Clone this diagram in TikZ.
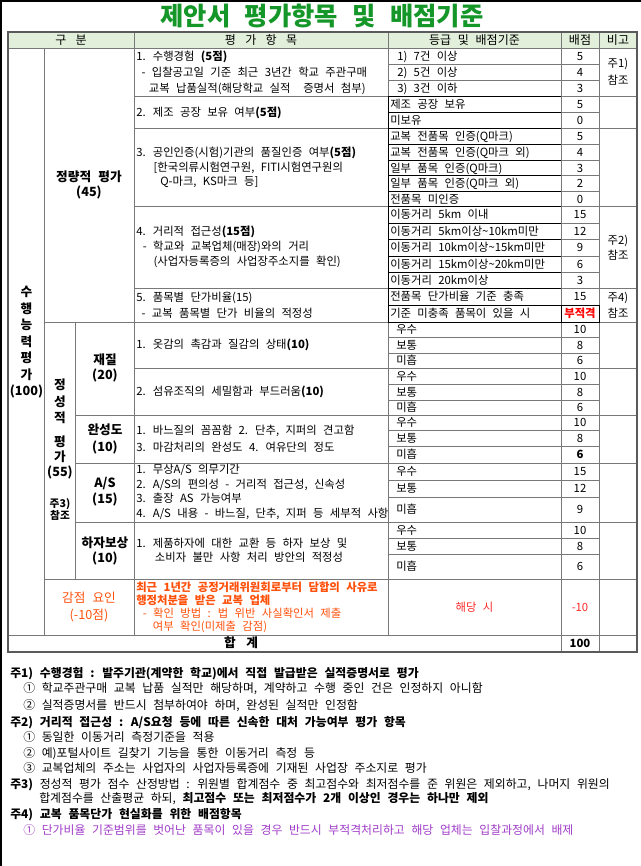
\documentclass[tikz,border=0pt]{standalone}
\usepackage{fontspec}
\setmainfont{Noto Sans CJK KR}[WordSpace=2.5]

\definecolor{titlegreen}{RGB}{20,150,40}
\definecolor{headfill}{RGB}{226,239,218}
\definecolor{linegray}{RGB}{120,120,120}
\definecolor{outergray}{RGB}{90,90,90}
\definecolor{penalty}{RGB}{255,80,10}
\definecolor{minusred}{RGB}{255,40,40}
\definecolor{notepurple}{RGB}{160,60,200}

\tikzset{
  txt/.style={inner sep=0pt, font=\fontsize{8.5}{11}\selectfont},
  one/.style={txt, text height=7pt, text depth=1pt},
  lft/.style={one, anchor=west},
  note/.style={lft, font=\fontsize{8.9}{11}\selectfont},
  para/.style={inner sep=0pt, anchor=west, align=left, font=\fontsize{8.5}{#1}\selectfont},
  cat/.style={inner sep=0pt, align=center, font=\fontsize{9.5}{#1}\selectfont\bfseries},
  gridline/.style={draw=linegray, line width=0.75pt},
  darkline/.style={draw=black, line width=0.75pt},
  outerline/.style={draw=outergray, line width=1.6pt},
}

\begin{document}
\begin{tikzpicture}[x=0.75pt,y=-0.75pt]
  \useasboundingbox (0,0) rectangle (641,866);
  \draw[line width=1.5pt] (0.75,866) -- (0.75,0.75) -- (641,0.75);
  \node[font=\fontsize{19}{21}\selectfont\bfseries, text=titlegreen, inner sep=0pt] (title) at (322,16) {제안서 평가항목 및 배점기준};

  % table rules
  \fill[headfill] (8,32) rectangle (637,49);
  \begin{scope}[gridline]
    \draw (44.5,49) -- (44.5,635);
    \draw (75.5,322) -- (75.5,579);
    \foreach \x in {134,388} \draw (\x,32) -- (\x,635);
    \foreach \x in {561,599} \draw (\x,32) -- (\x,652);
    \draw (8,49) -- (637,49);
    \foreach \y in {97,129,207,288,368} \draw (134,\y) -- (637,\y);
    \foreach \y in {415,463,522} \draw (75.5,\y) -- (637,\y);
    \foreach \y in {322,579} \draw (44.5,\y) -- (637,\y);
    \draw (8,635) -- (637,635);
    \foreach \y in {65,81,337,353,384,400,430,446,480,497,538,554} \draw (388,\y) -- (599,\y);
    \foreach \y in {113,145,161,176,192,223,239,256,272,305} \draw (561,\y) -- (599,\y);
  \end{scope}
  \begin{scope}[darkline]
    \foreach \y in {97,113,129,145,161,176,192,207,223,239,256,272,288,305,322} \draw (388,\y) -- (561,\y);
    \draw (388,97) -- (388,322);
    \draw (561,305) rectangle (599,322);
  \end{scope}
  \draw[outerline] (8,32) rectangle (637,652);

  % header
  \begin{scope}[every node/.style={one, font=\fontsize{9}{11}\selectfont}]
    \node (hgubun) at (71,40.5) {구\hspace{7pt}분};
    \node (hitem) at (261,40.5) {평\hspace{7pt}가\hspace{7pt}항\hspace{7pt}목};
    \node (hgrade) at (474.5,40.5) {등급 및 배점기준};
    \node (hscore) at (580,40.5) {배점};
    \node (hnote) at (618,40.5) {비고};
  \end{scope}

  % categories
  \node[cat=12.4] (perform) at (26.5,342.5) {수\\행\\능\\력\\평\\가\\(100)};
  \node[cat=11.25] (quant) at (89,185) {정량적 평가\\(45)};
  \node[cat=12.4] (qual1) at (60,401.5) {정\\성\\적};
  \node[cat=11.25] (qual2) at (60,457) {평\\가\\(55)};
  \node[inner sep=0pt, align=center, font=\fontsize{8}{9}\selectfont\bfseries] (qualref) at (60,509) {주3)\\참조};
  \node[cat=11.25] (fabric) at (105,367.5) {재질\\(20)};
  \node[cat=12.75] (finish) at (105,438.5) {완성도\\(10)};
  \node[cat=12] (service) at (105,492) {A/S\\(15)};
  \node[cat=11.25] (defect) at (105,550.5) {하자보상\\(10)};
  \node[cat=12.75, text=penalty, font=\fontsize{9.5}{12.75}\selectfont] (minus) at (89,606.5) {감점 요인\\(-10점)};

  % evaluation items
  \node[para=12] (item1) at (136,73) {1. 수행경험 \textbf{(5점)}\\\hspace*{4pt}- 입찰공고일 기준 최근 3년간 학교 주관구매\\\hspace*{9.5pt}교복 납품실적(해당학교 실적~ 증명서 첨부)};
  \node[para=11] (item2) at (136,113) {2. 제조 공장 보유 여부\textbf{(5점)}};
  \node[para=10.9] (item3) at (136,167.5) {3. 공인인증(시험)기관의 품질인증 여부\textbf{(5점)}\\\hspace*{13pt}[한국의류시험연구원, FITI시험연구원의\\\hspace*{18pt}Q-마크, KS마크 등]};
  \node[para=11.25] (item4) at (136,247) {4. 거리적 접근성\textbf{(15점)}\\\hspace*{5pt}- 학교와 교복업체(매장)와의 거리\\\hspace*{13pt}(사업자등록증의 사업장주소지를 확인)};
  \node[para=12] (item5) at (136,305) {5. 품목별 단가비율(15)\\\hspace*{4pt}- 교복 품목별 단가 비율의 적정성};
  \node[para=11] (fabric1) at (136,345) {1. 옷감의 촉감과 질감의 상태\textbf{(10)}};
  \node[para=11] (fabric2) at (136,392) {2. 섬유조직의 세밀함과 부드러움\textbf{(10)}};
  \node[para=12.75] (finish1) at (136,438.5) {1. 바느질의 꼼꼼함 2. 단추, 지퍼의 견고함\\3. 마감처리의 완성도 4. 여유단의 정도};
  \node[para=11] (service1) at (136,492) {1. 무상A/S 의무기간\\2. A/S의 편의성 - 거리적 접근성, 신속성\\3. 출장 AS 가능여부\\4. A/S 내용 - 바느질, 단추, 지퍼 등 세부적 사항};
  \node[para=10.5] (defect1) at (136,550) {1. 제품하자에 대한 교환 등 하자 보상 및\\\hspace*{14pt}소비자 불만 사항 처리 방안의 적정성};
  \node[para=9.75, text=penalty] (minus1) at (136,607.5) {\textbf{최근 1년간 공정거래위원회로부터 담합의 사유로}\\\textbf{행정처분을 받은 교복 업체}\\\hspace*{5pt}- 확인 방법 : 법 위반 사실확인서 제출\\\hspace*{12.5pt}여부 확인(미제출 감점)};

  % grades and scores
  \foreach \y/\g/\s [count=\i] in {57/{1) 7건 이상}/5, 73/{2) 5건 이상}/4, 89/{3) 3건 이하}/3}
    \node[lft] (ga\i) at (397,\y) {\g} node[one] (sa\i) at (580,\y) {\s};
  \foreach \y/\g/\s [count=\i] in {105/{제조 공장 보유}/5, 121/{미보유}/0,
      137/{교복 전품목 인증(Q마크)}/5, 153/{교복 전품목 인증(Q마크 외)}/4, 168.5/{일부 품목 인증(Q마크)}/3,
      184/{일부 품목 인증(Q마크 외)}/2, 199.5/{전품목 미인증}/0,
      215/{이동거리 5km 이내}/15, 231/{이동거리 5km이상\textasciitilde10km미만}/12,
      247.5/{이동거리 10km이상\textasciitilde15km미만}/9, 264/{이동거리 15km이상\textasciitilde20km미만}/6,
      280/{이동거리 20km이상}/3, 296.5/{전품목 단가비율 기준 충족}/15}
    \node[lft] (gb\i) at (390,\y) {\g} node[one] (sb\i) at (580,\y) {\s};
  \node[lft] (gfail) at (390,313.5) {기준 미충족 품목이 있을 시};
  \node[one, text=red] (sfail) at (580,313.5) {\textbf{부적격}};
  \foreach \y/\g/\s [count=\i] in {329.5/우수/10, 345/보통/8, 360.5/미흡/6, 376/우수/10, 392/보통/8, 407.5/미흡/6,
      422.5/우수/10, 438/보통/8, 454.5/미흡/\textbf{6}, 471.5/우수/15, 488.5/보통/12, 509.5/미흡/9,
      530/우수/10, 546/보통/8, 566.5/미흡/6}
    \node[lft] (gc\i) at (396,\y) {\g} node[one] (sc\i) at (580,\y) {\s};
  \node[one, text=minusred] (gminus) at (474.5,607) {해당 시};
  \node[one, text=minusred] (sminus) at (580,607) {-10};
  \node[one, font=\fontsize{9.5}{11}\selectfont\bfseries] (total) at (241,643.5) {합\hspace{8pt}계};
  \node[one, font=\fontsize{8.5}{11}\selectfont\bfseries] (stotal) at (580,643.5) {100};

  % remarks
  \node[txt, align=center, font=\fontsize{8.5}{12.75}\selectfont] (ref1) at (618,72) {주1)\\참조};
  \node[txt, align=center, font=\fontsize{8.5}{11.25}\selectfont] (ref2) at (618,247.5) {주2)\\참조};
  \node[txt, align=center, font=\fontsize{8.5}{12}\selectfont] (ref4) at (618,305) {주4)\\참조};

  % notes
  \node[note, font=\fontsize{8.9}{11}\selectfont\bfseries] (n1) at (10,673) {주1) 수행경험 : 발주기관(계약한 학교)에서 직접 발급받은 실적증명서로 평가};
  \node[note] (n1a) at (23,688) {① 학교주관구매 교복 납품 실적만 해당하며, 계약하고 수행 중인 건은 인정하지 아니함};
  \node[note] (n1b) at (23,705) {② 실적증명서를 반드시 첨부하여야 하며, 완성된 실적만 인정함};
  \node[note, font=\fontsize{8.9}{11}\selectfont\bfseries] (n2) at (10,722) {주2) 거리적 접근성 : A/S요청 등에 따른 신속한 대처 가능여부 평가 항목};
  \node[note] (n2a) at (23,737) {① 동일한 이동거리 측정기준을 적용};
  \node[note] (n2b) at (23,753) {② 예)포털사이트 길찾기 기능을 통한 이동거리 측정 등};
  \node[note] (n2c) at (23,768) {③ 교복업체의 주소는 사업자의 사업자등록증에 기재된 사업장 주소지로 평가};
  \node[note] (n3) at (10,784) {\textbf{주3)} 정성적 평가 점수 산정방법 : 위원별 합계점수 중 최고점수와 최저점수를 준 위원은 제외하고, 나머지 위원의};
  \node[note] (n3b) at (39,798) {합계점수를 산출평균 하되, \textbf{최고점수 또는 최저점수가 2개 이상인 경우는 하나만 제외}};
  \node[note, font=\fontsize{8.9}{11}\selectfont\bfseries] (n4) at (10,814) {주4) 교복 품목단가 현실화를 위한 배점항목};
  \node[note, text=notepurple] (n4a) at (23,830) {① 단가비율 기준범위를 벗어난 품목이 있을 경우 반드시 부적격처리하고 해당 업체는 입찰과정에서 배제};
\end{tikzpicture}
\end{document}
